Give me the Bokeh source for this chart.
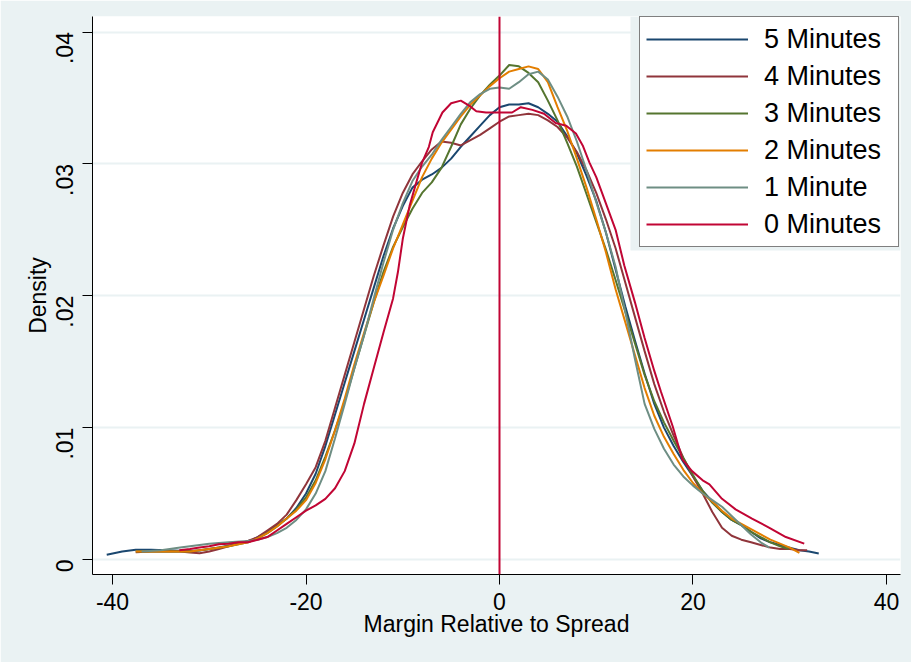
import math
from bokeh.plotting import figure
from bokeh.models import FixedTicker, Span, BoxAnnotation, Range1d
from bokeh.embed import file_html
from bokeh.resources import INLINE

# ---------------- data ----------------
series_labels = ["5 Minutes", "4 Minutes", "3 Minutes", "2 Minutes", "1 Minute", "0 Minutes"]

x_5min = [-40.6, -39, -37.6, -36, -34.5, -33, -31, -29, -27, -25.5,
          -24, -23, -22, -21, -20, -19, -18, -17, -16, -15,
          -14, -13, -12, -11, -10, -9, -8, -7, -6, -5, -4, -3, -2, -1,
          0, 1, 2, 3, 4, 5, 6, 7, 8, 9, 10, 11, 12, 13, 14, 15, 16, 17,
          18, 19, 20, 21, 22, 23, 24, 25, 26, 27, 28, 29, 30, 31, 32, 33]
d_5min = [0.00036, 0.0006, 0.00074, 0.00074, 0.0007, 0.00066, 0.00068, 0.0009, 0.0012, 0.0015,
          0.0021, 0.0026, 0.0031, 0.0039, 0.0050, 0.0065, 0.0086, 0.0110, 0.0134, 0.0158,
          0.0182, 0.0206, 0.0230, 0.0251, 0.0268, 0.0282, 0.0288, 0.0292, 0.0297, 0.0304,
          0.0313, 0.0321, 0.0329, 0.0337,
          0.0343, 0.0345, 0.0345, 0.0346, 0.0343, 0.0338, 0.0332, 0.0321, 0.0308, 0.0291,
          0.0272, 0.0248, 0.0220, 0.0192, 0.0166, 0.0141, 0.0118, 0.0100, 0.0086, 0.0074,
          0.0063, 0.0052, 0.0044, 0.0036, 0.0030, 0.0026, 0.0021, 0.0016, 0.0013, 0.0011,
          0.0009, 0.0007, 0.0006, 0.00045]

x_4min = [-37.6, -36, -34, -33, -32, -31, -30, -29, -28, -27,
          -26, -25, -24, -23, -22, -21, -20, -19, -18, -17, -16, -15, -14, -13,
          -12, -11, -10, -9, -8, -7, -6, -5, -4, -3, -2, -1,
          0, 1, 2, 3, 4, 5, 6, 7, 8, 9, 10, 11, 12, 13, 14, 15, 16, 17, 18, 19,
          20, 21, 22, 23, 24, 25, 26, 27, 28, 29, 30, 31, 31.8]
d_4min = [0.00055, 0.0006, 0.00062, 0.0006, 0.00052, 0.00048, 0.0006, 0.0008, 0.001, 0.0012,
          0.0014, 0.0017, 0.0022, 0.0027, 0.0034, 0.0045, 0.0057, 0.0070, 0.0090, 0.0115,
          0.0140, 0.0165, 0.0190, 0.0215, 0.0238, 0.0260, 0.0278, 0.0292, 0.0302, 0.0311,
          0.0317, 0.0316, 0.0314, 0.0318, 0.0322, 0.0327,
          0.0332, 0.0336, 0.0337, 0.0338, 0.0337, 0.0333, 0.0328, 0.0320, 0.0309, 0.0295,
          0.0278, 0.0258, 0.0236, 0.0210, 0.0184, 0.0158, 0.0133, 0.0112, 0.0094, 0.0077,
          0.0063, 0.0050, 0.0036, 0.0024, 0.0018, 0.0015, 0.0013, 0.0011, 0.0009, 0.0008,
          0.0008, 0.0007, 0.0007]

x_3min = [-37.6, -36, -34, -32, -30, -28,
          -26, -25, -24, -23, -22, -21, -20, -19, -18, -17, -16, -15, -14, -13,
          -12, -11, -10, -9, -8, -7, -6, -5, -4, -3, -2, -1,
          0, 1, 2, 3, 4, 5, 6, 7, 8, 9, 10, 11, 12, 13, 14, 15, 16, 17, 18, 19,
          20, 21, 22, 23, 24, 25, 26, 27, 28, 29, 29.9]
d_3min = [0.0006, 0.0006, 0.0006, 0.0006, 0.0008, 0.001,
          0.0013, 0.0016, 0.002, 0.0025, 0.0031, 0.0038, 0.0047, 0.0060, 0.0078, 0.0098,
          0.0120, 0.0145, 0.0170, 0.0195, 0.0218, 0.0237, 0.0252, 0.0266, 0.0278, 0.0286,
          0.0297, 0.0313, 0.0330, 0.0342, 0.0352, 0.0360,
          0.0367, 0.0375, 0.0374, 0.0369, 0.0362, 0.0348, 0.0333, 0.0316, 0.0298, 0.0277,
          0.0256, 0.0235, 0.0212, 0.0188, 0.0164, 0.0140, 0.0120, 0.0104, 0.0090, 0.0077,
          0.0064, 0.0052, 0.0043, 0.0036, 0.0030, 0.0026, 0.0021, 0.0017, 0.0013, 0.0010,
          0.0008]

x_2min = [-37.6, -36, -34, -32, -30, -28,
          -26, -25, -24, -23, -22, -21, -20, -19, -18, -17, -16, -15, -14, -13,
          -12, -11, -10, -9, -8, -7, -6, -5, -4, -3, -2, -1,
          0, 1, 2, 3, 4, 5, 6, 7, 8, 9, 10, 11, 12, 13, 14, 15, 16, 17, 18, 19,
          20, 21, 22, 23, 24, 25, 26, 27, 28, 29, 30, 31]
d_2min = [0.0006, 0.0006, 0.0006, 0.0006, 0.0008, 0.001,
          0.0013, 0.0016, 0.002, 0.0025, 0.0031, 0.0037, 0.0045, 0.0058, 0.0076, 0.0098,
          0.0122, 0.0148, 0.0172, 0.0195, 0.0215, 0.0236, 0.0254, 0.0272, 0.0290, 0.0304,
          0.0316, 0.0326, 0.0336, 0.0345, 0.0352, 0.0359,
          0.0365, 0.0370, 0.0372, 0.0374, 0.0372, 0.0362, 0.0343, 0.0325, 0.0304, 0.0282,
          0.0258, 0.0233, 0.0205, 0.0180, 0.0155, 0.0130, 0.0109, 0.0093, 0.0080, 0.0068,
          0.0058, 0.0050, 0.0044, 0.0037, 0.0031, 0.0027, 0.0023, 0.0019, 0.0015, 0.0012,
          0.0009, 0.0005]

x_1min = [-37, -35, -33, -31, -30, -28,
          -26, -25, -24, -23, -22, -21, -20, -19, -18, -17, -16, -15, -14, -13,
          -12, -11, -10, -9, -8, -7, -6, -5, -4, -3, -2, -1,
          0, 1, 2, 3, 4, 5, 6, 7, 8, 9, 10, 11, 12, 13, 14, 15, 16, 17, 18, 19,
          20, 21, 22, 23, 24, 25, 26, 27, 27.9]
d_1min = [0.0006, 0.0007, 0.0009, 0.0011, 0.0012, 0.0013,
          0.0014, 0.0015, 0.0017, 0.0020, 0.0024, 0.0030, 0.0038, 0.0050, 0.0067, 0.0092,
          0.0118, 0.0145, 0.0170, 0.0198, 0.0225, 0.0250, 0.0270, 0.0287, 0.0298, 0.0307,
          0.0318, 0.0328, 0.0338, 0.0347, 0.0353, 0.0357,
          0.0358, 0.0357, 0.0362, 0.0368, 0.0370, 0.0364, 0.0351, 0.0336, 0.0317, 0.0295,
          0.0271, 0.0248, 0.0222, 0.0188, 0.0152, 0.0118, 0.0099, 0.0084, 0.0072, 0.0063,
          0.0056, 0.0050, 0.0045, 0.0040, 0.0033, 0.0026, 0.0019, 0.0013, 0.0009]

x_0min = [-33.1, -32, -31, -30, -29, -28, -27, -26, -25, -24,
          -23, -22, -21, -20, -19, -18, -17, -16, -15, -14,
          -13, -12, -11, -10.5, -10, -9.3, -8.6, -8, -7.3, -6.9,
          -5.9, -5, -4, -3.1, -2.4, -1.4, 0, 1.3, 2.2, 3.4,
          4.6, 5.8, 6.9, 7.9, 8.6, 9.3, 10, 10.6, 11.3, 12,
          12.9, 14, 15, 16, 16.7, 17.9, 18.9, 19.9, 21, 21.7,
          23, 24.4, 26.1, 27.9, 29.6, 31.5]
d_0min = [0.0007, 0.0008, 0.0009, 0.001, 0.00116, 0.0012, 0.0013, 0.0013, 0.0015, 0.0017,
          0.0022, 0.0027, 0.0032, 0.0037, 0.0041, 0.0046, 0.0054, 0.0067, 0.0088, 0.0118,
          0.0145, 0.0172, 0.0198, 0.0218, 0.0243, 0.0268, 0.0286, 0.0301, 0.0313, 0.0324,
          0.0339, 0.0346, 0.0348, 0.0344, 0.0340, 0.0339, 0.0339, 0.0339, 0.0343, 0.0341,
          0.0338, 0.0331, 0.0329, 0.0323, 0.0314, 0.0301, 0.0290, 0.0278, 0.0264, 0.0250,
          0.0223, 0.0195, 0.0168, 0.0143, 0.0127, 0.0101, 0.0076, 0.0067, 0.0060, 0.0057,
          0.0046, 0.0038, 0.0031, 0.0024, 0.0017, 0.0012]

x_ticks = [-40, -20, 0, 20, 40]
x_tick_labels = ["-40", "-20", "0", "20", "40"]
y_ticks = [0, 0.01, 0.02, 0.03, 0.04]
y_tick_labels = ["0", ".01", ".02", ".03", ".04"]
ref_line_x = 0

# ---------------- styling ----------------
BG = "#EAF2F3"
colors = ["#1A476F", "#90353B", "#55752F", "#E37E00", "#6E8E84", "#C10534"]
FONT = "Liberation Sans"

p = figure(width=911, height=662, output_backend="svg", toolbar_location=None,
           x_range=Range1d(-42.07, 41.45), y_range=Range1d(-0.00114, 0.04118),
           min_border_left=92, min_border_right=11, min_border_top=16,
           min_border_bottom=88)
p.border_fill_color = BG
p.background_fill_color = "white"
p.outline_line_color = None

# light halo around the legend (as in the original)
halo = BoxAnnotation(left=13.54, bottom=0.02343, fill_color=BG, fill_alpha=1.0,
                     line_color=None)
p.add_layout(halo)

p.add_layout(Span(location=ref_line_x, dimension="height", line_color="#C10534",
                  line_width=2))

xs = [x_5min, x_4min, x_3min, x_2min, x_1min, x_0min]
ds = [d_5min, d_4min, d_3min, d_2min, d_1min, d_0min]
for xv, dv, c, lab in zip(xs, ds, colors, series_labels):
    assert len(xv) == len(dv), lab
    p.line(xv, dv, line_color=c, line_width=2, legend_label=lab)

# axes
for ax in (p.xaxis[0], p.yaxis[0]):
    ax.axis_line_color = "black"
    ax.axis_line_width = 1
    ax.major_tick_line_color = "black"
    ax.major_tick_out = 10
    ax.major_tick_in = 0
    ax.minor_tick_line_color = None
    ax.major_label_text_font = FONT
    ax.major_label_text_font_size = "23px"
    ax.major_label_text_color = "black"
    ax.axis_label_text_font = FONT
    ax.axis_label_text_font_size = "23px"
    ax.axis_label_text_font_style = "normal"
    ax.axis_label_text_color = "black"

p.xaxis.ticker = FixedTicker(ticks=x_ticks)
p.xaxis.major_label_overrides = dict(zip(x_ticks, x_tick_labels))
p.yaxis.ticker = FixedTicker(ticks=y_ticks)
p.yaxis.major_label_overrides = dict(zip(y_ticks, y_tick_labels))
p.yaxis.major_label_orientation = math.pi / 2
p.xaxis.axis_label = "Margin Relative to Spread"
p.yaxis.axis_label = "Density"
p.xaxis.major_label_standoff = 8
p.yaxis.major_label_standoff = 18
p.xaxis.axis_label_standoff = -2
p.yaxis.axis_label_standoff = -6

p.xgrid.grid_line_color = None
p.ygrid.grid_line_color = BG
p.ygrid.grid_line_width = 2

# legend
lg = p.legend[0]
lg.location = (547, 327)
lg.border_line_color = "black"
lg.border_line_width = 1
lg.background_fill_color = "white"
lg.background_fill_alpha = 1.0
lg.label_text_font = FONT
lg.label_text_font_size = "27px"
lg.label_text_color = "black"
lg.glyph_width = 102
lg.glyph_height = 32
lg.label_height = 32
lg.label_width = 128
lg.label_standoff = 16
lg.padding = 6
lg.spacing = 5
lg.margin = 0

open("out.html", "w").write(file_html(p, INLINE))
